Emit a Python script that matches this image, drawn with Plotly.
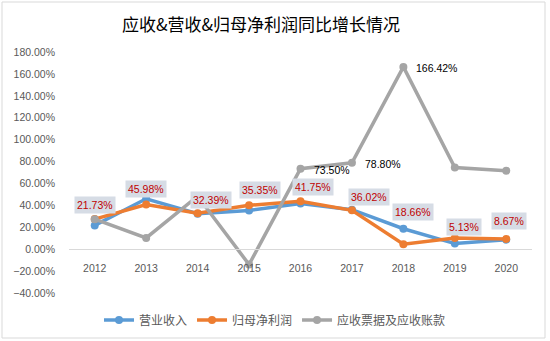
import plotly.graph_objects as go

years = ["2012", "2013", "2014", "2015", "2016", "2017", "2018", "2019", "2020"]
revenue = [21.73, 45.98, 32.39, 35.35, 41.75, 36.02, 18.66, 5.13, 8.67]
net_profit = [27.5, 40.8, 32.8, 40.0, 43.8, 35.5, 4.6, 10.2, 9.3]
receivables = [27.4, 10.3, 48.4, -14.0, 73.50, 78.80, 166.42, 74.6, 71.5]
series_names = ["营业收入", "归母净利润", "应收票据及应收账款"]
gray_label_idx = [4, 5, 6]

# style: label offsets (px) for revenue labels
label_dx = [0, 0, 13, 11, 12, 17, 10, 9, 3]
label_dy = [20, 10, 14, 20, 16, 13, 17, 17, 19]

colors = ["#5B9BD5", "#ED7D31", "#A5A5A5"]
FONT = "Liberation Sans, Noto Sans CJK SC, sans-serif"

fig = go.Figure()
for name, vals, c in zip(series_names, [revenue, net_profit, receivables], colors):
    fig.add_trace(go.Scatter(
        x=years, y=vals, name=name, mode="lines+markers",
        line=dict(color=c, width=3.5), marker=dict(color=c, size=8),
    ))

ann = []
for i, v in enumerate(revenue):
    ann.append(dict(x=i, y=v, xref="x", yref="y", text=f"{v:.2f}%", showarrow=False,
                    xshift=label_dx[i], yshift=label_dy[i],
                    font=dict(family=FONT, size=10.5, color="#C00000"),
                    bgcolor="#D6DCE5", borderpad=2))
for i in gray_label_idx:
    ann.append(dict(x=i, y=receivables[i], xref="x", yref="y",
                    text=f"{receivables[i]:.2f}%", showarrow=False,
                    xanchor="left", xshift=11, yshift=-1,
                    font=dict(family=FONT, size=10.5, color="#000000")))

L, R, T, B = 69, 18, 52, 48
W, H = 550, 341
pw, ph = W - L - R, H - T - B
ymin, ymax = -40, 180

def px_x(p):
    return (p - L) / pw

def px_y(p):
    return (H - B - p) / ph

fig.update_layout(
    width=W, height=H,
    margin=dict(l=L, r=R, t=T, b=B, autoexpand=False),
    paper_bgcolor="white", plot_bgcolor="white",
    title=dict(text="应收&营收&归母净利润同比增长情况", x=261 / W, xanchor="center",
               y=1 - 25 / H, yanchor="middle", xref="container", yref="container",
               font=dict(family="Noto Sans CJK SC", size=17, color="#000000")),
    xaxis=dict(type="category", range=[-0.5, 8.5], showgrid=False, zeroline=False,
               anchor="free", position=(0 - ymin) / (ymax - ymin),
               showline=True, linecolor="#D9D9D9", linewidth=1, ticks="",
               ticklabelstandoff=9,
               tickfont=dict(family=FONT, size=10.5, color="#595959")),
    yaxis=dict(range=[ymin, ymax], dtick=20, tick0=0, showgrid=False, zeroline=False,
               tickformat=".2f", ticksuffix="%", ticks="", ticklabelstandoff=13,
               tickfont=dict(family=FONT, size=10.5, color="#595959")),
    legend=dict(orientation="h", xref="container", yref="container", x=275 / W,
                xanchor="center", y=1 - 320 / H, yanchor="middle",
                font=dict(family="Noto Sans CJK SC", size=12, color="#595959"),
                itemwidth=30),
    annotations=ann,
    shapes=[dict(type="rect", xref="paper", yref="paper",
                 x0=px_x(2), x1=px_x(545), y0=px_y(338), y1=px_y(2),
                 line=dict(color="#D9D9D9", width=1), fillcolor="rgba(0,0,0,0)",
                 layer="below")],
    showlegend=True,
)

fig.write_html("out.html")
